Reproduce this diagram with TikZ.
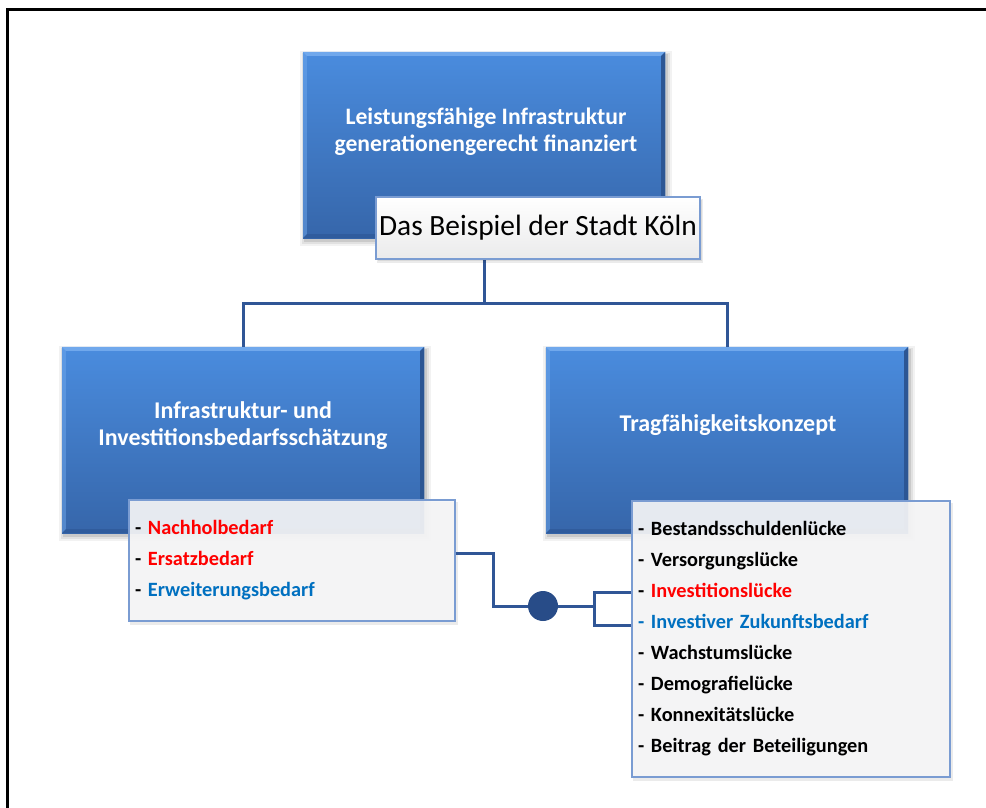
\documentclass[tikz,border=0pt]{standalone}
\usepackage{fontspec}
\setmainfont{Carlito}
\definecolor{boxtop}{RGB}{74,140,222}
\definecolor{boxbot}{RGB}{54,102,170}
\definecolor{bevlight}{RGB}{112,168,236}
\definecolor{bevdark}{RGB}{44,86,148}
\definecolor{connc}{RGB}{48,86,150}
\definecolor{dotc}{RGB}{40,76,136}
\definecolor{listborder}{RGB}{122,156,210}
\definecolor{listfill}{RGB}{246,246,247}
\definecolor{txtred}{RGB}{255,0,0}
\definecolor{txtblue}{RGB}{0,112,192}
\newcommand\myShadow[1]{%
  \foreach \a/\b/\c/\d/\o in {-3/-1/7/8/0.05,-1/1/5/6/0.07,1/2/3/4/0.10}{%
    \fill[black,opacity=\o] ([shift={(\a,\b)}]#1.north west) rectangle ([shift={(\c,\d)}]#1.south east);}}
\newcommand\myBevel[1]{%
  \fill[bevlight] (#1.north west) -- (#1.north east) -- ([shift={(-4,4)}]#1.north east) -- ([shift={(4,4)}]#1.north west) -- cycle;
  \fill[bevlight,opacity=0.5] (#1.north west) -- ([shift={(4,4)}]#1.north west) -- ([shift={(4,-4)}]#1.south west) -- (#1.south west) -- cycle;
  \fill[bevdark] (#1.north east) -- ([shift={(-4,4)}]#1.north east) -- ([shift={(-4,-4)}]#1.south east) -- (#1.south east) -- cycle;
  \fill[bevdark,opacity=0.6] (#1.south west) -- ([shift={(4,-4)}]#1.south west) -- ([shift={(-4,-4)}]#1.south east) -- (#1.south east) -- cycle;}
\tikzset{
  bluebox/.style={draw=none,inner sep=0pt,minimum width=362pt,minimum height=186pt,top color=boxtop,bottom color=boxbot},
  boxtext/.style={text=white,align=center,font=\bfseries\fontsize{24}{27}\selectfont,inner sep=0pt},
  listbox/.style={draw=listborder,line width=1.4pt,fill=listfill,fill opacity=0.92,text opacity=1,inner xsep=6pt,inner ysep=0pt,align=left,font=\bfseries\fontsize{20.3}{31}\selectfont},
  conn/.style={draw=connc,line width=3pt},
}
\begin{document}
\begin{tikzpicture}[x=1pt,y=-1pt]
\useasboundingbox (0,0) rectangle (986,807);
% frame
\draw[line width=2.6pt,line cap=rect] (7.5,810) -- (7.5,9.5) -- (990,9.5);
% blue boxes
\path (484,145) node[bluebox] (top) {};
\path (243,440) node[bluebox] (left) {};
\path (727,440) node[bluebox] (right) {};
\myShadow{top}\myShadow{left}\myShadow{right}
\path (484,145) node[bluebox] {};
\path (243,440) node[bluebox] {};
\path (727,440) node[bluebox] {};
\myBevel{top}\myBevel{left}\myBevel{right}
\node[boxtext,font=\bfseries\fontsize{23.6}{27}\selectfont] (toptxt) at (486,132) {Leistungsfähige Infrastruktur\\generationengerecht finanziert};
\node[boxtext] (lefttxt) at (243,426) {Infrastruktur- und\\Investitionsbedarfsschätzung};
\node[boxtext] (righttxt) at (728,425) {Tragfähigkeitskonzept};
% upper connectors
\draw[conn] (top.south) -- ++(0,65) coordinate (j) -| (left.north);
\draw[conn] (j) -| (right.north);
% Das Beispiel box
\fill[black,opacity=0.08] (377,199) rectangle (703,263);
\fill[black,opacity=0.08] (378,200) rectangle (702,261);
\node[draw=listborder,line width=1.4pt,top color=white,bottom color=listfill!90!gray,minimum width=324pt,minimum height=62pt,inner sep=0pt,font=\fontsize{29.4}{32}\selectfont] (das) at (538,228) {Das Beispiel der Stadt Köln};
% list boxes
\fill[black,opacity=0.08] (130,502) rectangle (458,625);
\fill[black,opacity=0.08] (633,503) rectangle (953,781);
\node[listbox,minimum width=326pt,minimum height=121pt,text width=314pt] (llist) at (292,560.5) {%
- \textcolor{txtred}{Nachholbedarf}\\
- \textcolor{txtred}{Ersatzbedarf}\\
- \textcolor{txtblue}{Erweiterungsbedarf}};
\node[listbox,minimum width=318pt,minimum height=276pt,text width=306pt] (rlist) at (791,639) {%
- Bestandsschuldenlücke\\
- Versorgungslücke\\
- \textcolor{txtred}{Investitionslücke}\\
\textcolor{txtblue}{- Investiver Zukunftsbedarf}\\
- Wachstumslücke\\
- Demografielücke\\
- Konnexitätslücke\\
- Beitrag der Beteiligungen};
% lower connectors
\coordinate (k1) at (493,606);
\coordinate (k2) at (594,606);
\node[circle,fill=dotc,minimum size=30pt,inner sep=0pt] (dot) at (543,606) {};
\draw[conn] ([yshift=7.5pt]llist.east) -| (k1) -- (dot);
\draw[conn] (dot) -- (k2);
\draw[conn] ([yshift=47pt]rlist.west) -| (k2) |- ([yshift=14pt]rlist.west);
\end{tikzpicture}
\end{document}
